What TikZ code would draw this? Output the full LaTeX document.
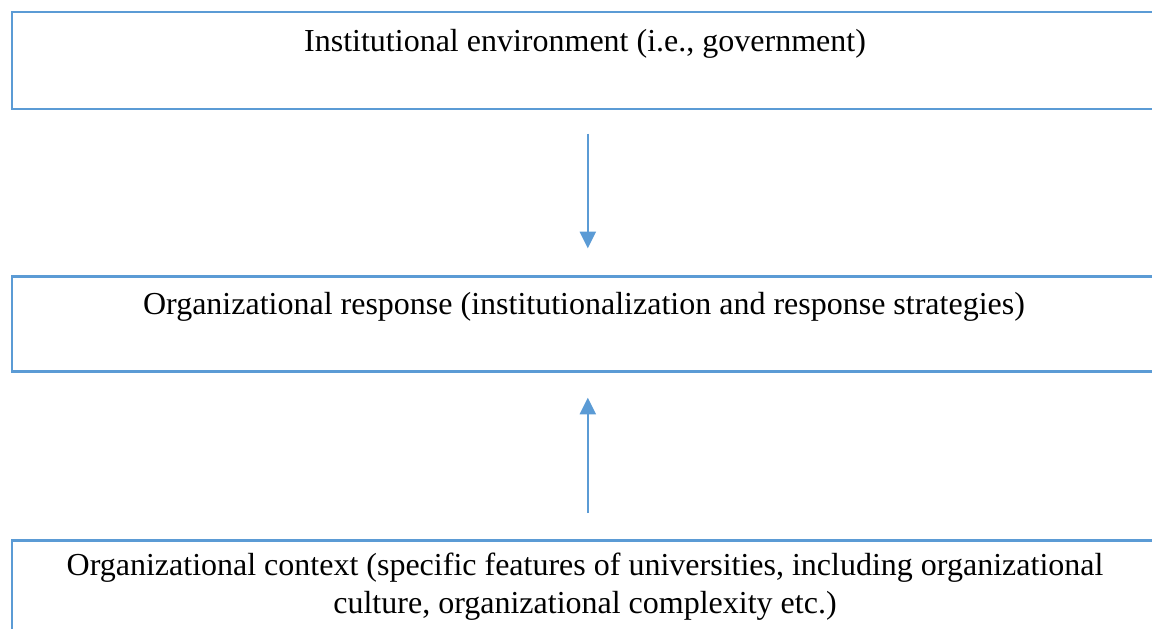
\documentclass[tikz,border=0pt]{standalone}
\usepackage{fontspec}
\setmainfont{Liberation Serif}
\usetikzlibrary{arrows.meta}
\definecolor{officeblue}{HTML}{5B9BD5}
\begin{document}
\begin{tikzpicture}[x=0.75pt,y=-0.75pt,
  boxframe/.style={draw=officeblue,line width=2pt,rectangle,inner sep=0pt,anchor=north west},
  boxtext/.style={font=\fontsize{24}{28.5}\selectfont,align=center,inner sep=0pt,anchor=base},
  flow/.style={draw=officeblue,line width=1.6pt,-{Triangle[width=12pt,length=12.5pt]}}]
\useasboundingbox (0,0) rectangle (1152,628);
% three boxes, the right and bottom edges run past the page
\node[boxframe,minimum width=862.5pt,minimum height=72.75pt] (env) at (10.5,10.5) {};
\node[boxframe,minimum width=862.5pt,minimum height=71.25pt] (resp) at (10.5,275) {};
\node[boxframe,minimum width=862.5pt,minimum height=75pt] (ctx) at (10.5,539) {};
% labels
\node[boxtext] (envlabel) at (585,51) {Institutional environment (i.e., government)};
\node[boxtext] (resplabel) at (584,314) {Organizational response (institutionalization and response strategies)};
\node[boxtext,anchor=north] (ctxlabel) at (585,553) {Organizational context (specific features of universities, including organizational\\culture, organizational complexity etc.)};
% arrows between the boxes
\draw[flow] ([xshift=0.75pt,yshift=-17.6pt]env.south) -- ([xshift=0.75pt,yshift=20pt]resp.north);
\draw[flow] ([xshift=0.75pt,yshift=19.5pt]ctx.north) -- ([xshift=0.75pt,yshift=-18.75pt]resp.south);
\end{tikzpicture}
\end{document}
